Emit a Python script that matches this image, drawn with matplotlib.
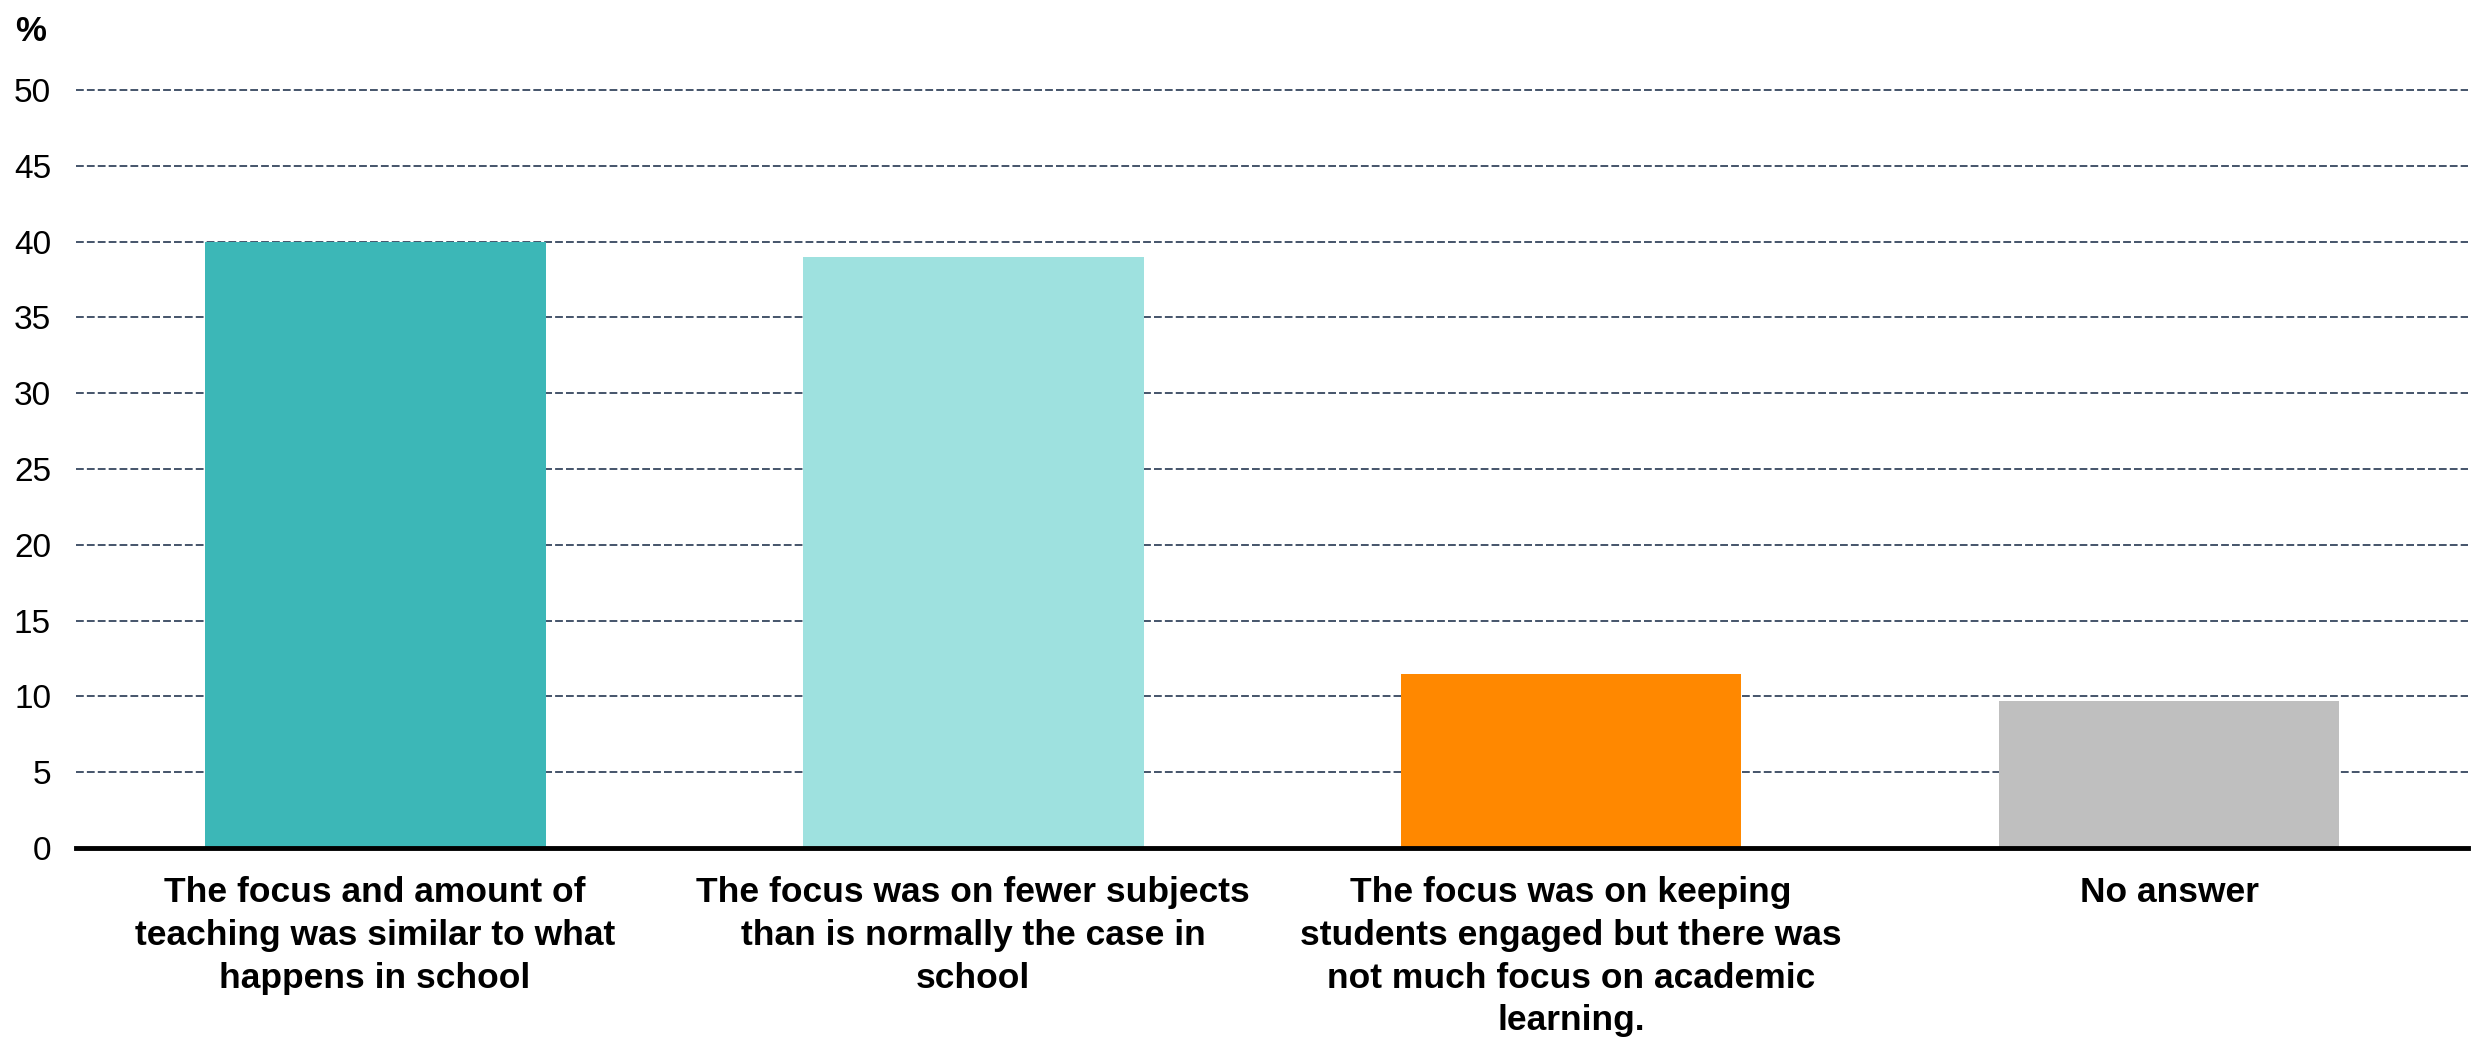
import matplotlib.pyplot as plt
import numpy as np

# categories and values (percent)
categories = [
    "The focus and amount of\nteaching was similar to what\nhappens in school",
    "The focus was on fewer subjects\nthan is normally the case in\nschool",
    "The focus was on keeping\nstudents engaged but there was\nnot much focus on academic\nlearning.",
    "No answer",
]
values = [40.0, 39.0, 11.5, 9.7]
colors = ["#3CB7B7", "#9EE1DF", "#FF8800", "#BFBFBF"]
yticks = [0, 5, 10, 15, 20, 25, 30, 35, 40, 45, 50]

plt.rcParams['font.family'] = ['Liberation Sans', 'DejaVu Sans']

fig = plt.figure(figsize=(24.71, 10.4), dpi=100)
ax = fig.add_axes([0.0308, 0.1846, 0.968, 0.7289])

x = np.arange(len(categories))
ax.bar(x, values, width=0.57, color=colors, zorder=3)

ax.set_xlim(-0.5, len(categories) - 0.5)
ax.set_ylim(0, 50)
ax.set_yticks(yticks)
ax.set_yticklabels([str(t) for t in yticks], fontsize=24)
ax.tick_params(axis='y', length=0, pad=18)

ax.set_xticks(x)
ax.set_xticklabels(categories, fontsize=25.5, fontweight='bold', linespacing=1.38)
ax.tick_params(axis='x', length=0, pad=20)

# dashed gridlines
ax.yaxis.grid(True, color="#44546A", linestyle=(0, (4, 1.6)), linewidth=1.4, zorder=1)
for gl in ax.get_ygridlines():
    gl.set_clip_on(False)
ax.set_axisbelow(True)
for s in ['top', 'right', 'left']:
    ax.spines[s].set_visible(False)
ax.spines['bottom'].set_linewidth(3.5)
ax.spines['bottom'].set_color('black')
ax.spines['bottom'].set_zorder(4)

fig.text(0.006, 0.97, "%", fontsize=25, fontweight='bold', ha='left', va='center')

fig.savefig("out.png", dpi=100)
